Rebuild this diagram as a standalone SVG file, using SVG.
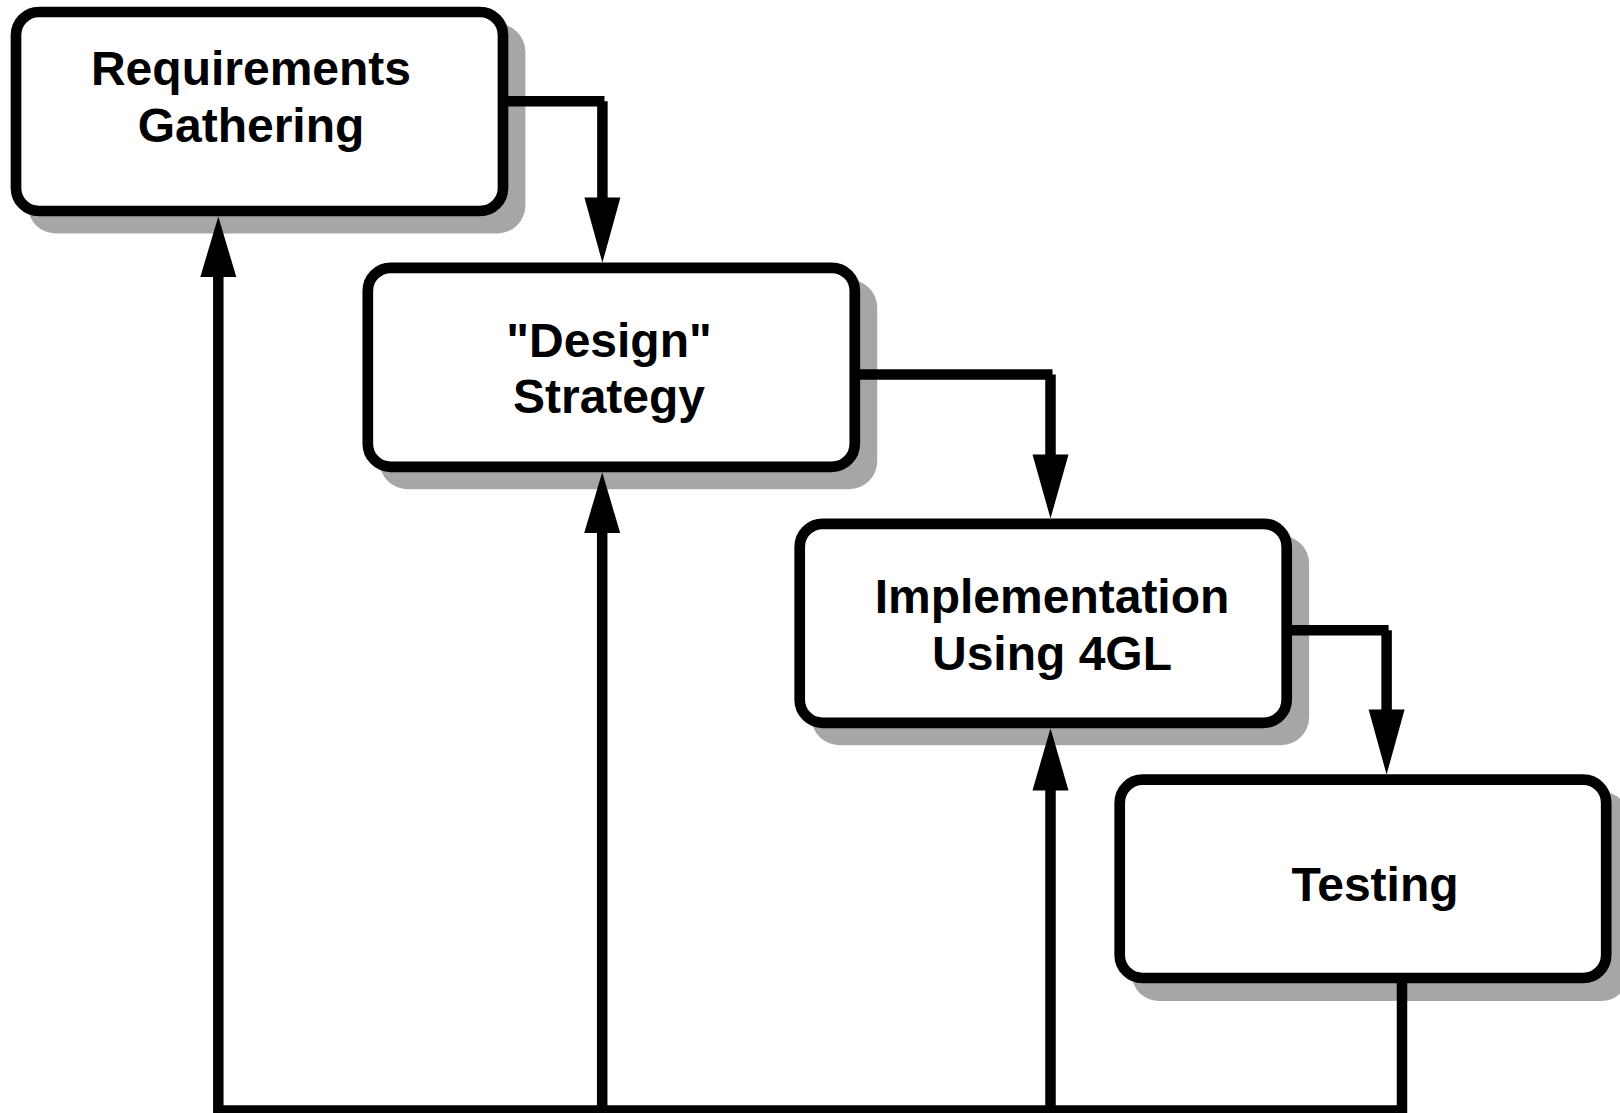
<svg xmlns="http://www.w3.org/2000/svg" width="1620" height="1113" viewBox="0 0 1620 1113">
<style>
.shadow{fill:#a6a6a6;stroke:none}
.box{fill:#ffffff;stroke:#000000;stroke-width:10.7}
.lbl{font-family:"Liberation Sans",Arial,Helvetica,sans-serif;font-weight:bold;font-size:48px;fill:#000000;text-anchor:middle}
.ln{fill:none;stroke:#000000;stroke-width:10.5;stroke-linecap:butt;stroke-linejoin:miter}
.ah{fill:#000000;stroke:none}
</style>
<rect width="1620" height="1113" fill="#ffffff"/>
<g id="shadows">
<rect class="shadow" x="27.7" y="23.7" width="497.7" height="209.7" rx="28"/>
<rect class="shadow" x="379.5" y="279.5" width="497.7" height="209.7" rx="28"/>
<rect class="shadow" x="811.4" y="535.5" width="497.7" height="209.7" rx="28"/>
<rect class="shadow" x="1131.4" y="791.4" width="497.7" height="209.7" rx="28"/>
</g>
<g id="node-requirements">
<rect class="box" x="16" y="12" width="487" height="199" rx="23"/>
<text class="lbl" x="251" y="84.7">Requirements</text>
<text class="lbl" x="251" y="141.5">Gathering</text>
</g>
<g id="node-design">
<rect class="box" x="367.8" y="267.8" width="487" height="199" rx="23"/>
<text class="lbl" x="609" y="356.5">"Design"</text>
<text class="lbl" x="609" y="413">Strategy</text>
</g>
<g id="node-implementation">
<rect class="box" x="799.7" y="523.8" width="487" height="199" rx="23"/>
<text class="lbl" x="1052" y="612.7">Implementation</text>
<text class="lbl" x="1052" y="669.5">Using 4GL</text>
</g>
<g id="node-testing">
<rect class="box" x="1119.7" y="779.7" width="486.5" height="198.3" rx="23"/>
<text class="lbl" x="1375" y="901">Testing</text>
</g>
<g id="connectors">
<line class="ln" x1="508" y1="101.3" x2="604.5" y2="101.3"/>
<line class="ln" x1="602.4" y1="101.3" x2="602.4" y2="199"/>
<polygon class="ah" points="584.4,197.5 620.4,197.5 602.4,262.8"/>
<line class="ln" x1="860" y1="374.5" x2="1052.5" y2="374.5"/>
<line class="ln" x1="1050.5" y1="374.5" x2="1050.5" y2="456"/>
<polygon class="ah" points="1032.5,454.5 1068.5,454.5 1050.5,518.5"/>
<line class="ln" x1="1291.5" y1="630.3" x2="1388.6" y2="630.3"/>
<line class="ln" x1="1386.6" y1="630.3" x2="1386.6" y2="711"/>
<polygon class="ah" points="1368.6,709.5 1404.6,709.5 1386.6,774.5"/>
<polyline class="ln" points="1402,983 1402,1110.5 218.3,1110.5 218.3,276"/>
<polygon class="ah" points="200.3,277 236.3,277 218.3,216.5"/>
<line class="ln" x1="602.2" y1="1110.5" x2="602.2" y2="532"/>
<polygon class="ah" points="584.2,533 620.2,533 602.2,472.2"/>
<line class="ln" x1="1050.5" y1="1110.5" x2="1050.5" y2="789"/>
<polygon class="ah" points="1032.5,790.4 1068.5,790.4 1050.5,728.2"/>
</g>
</svg>
